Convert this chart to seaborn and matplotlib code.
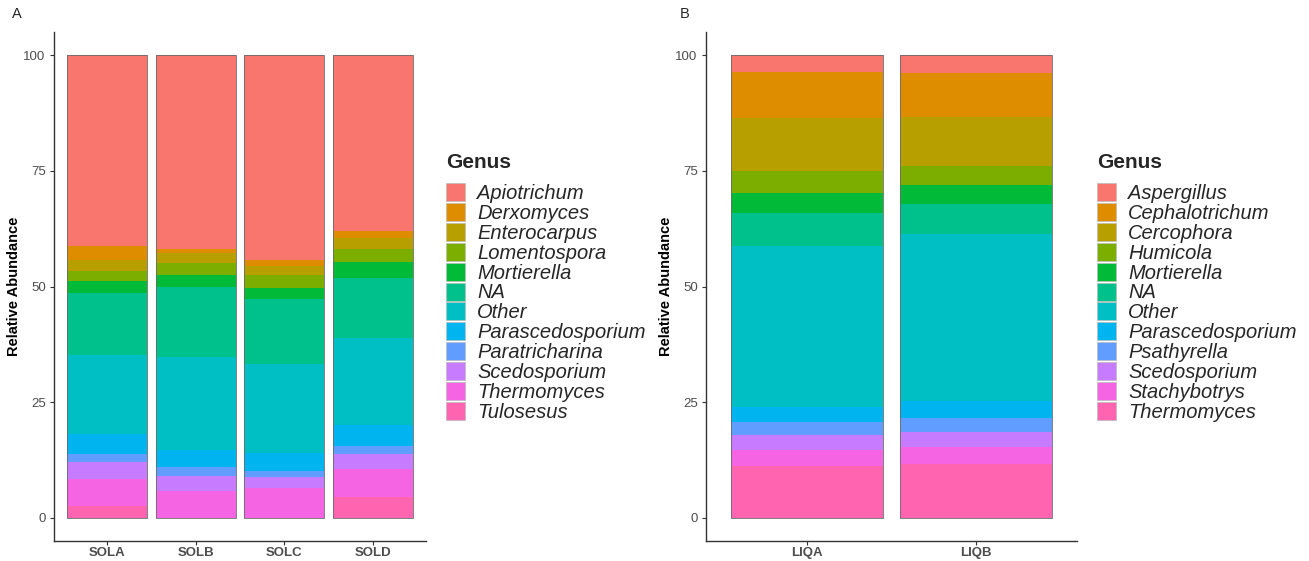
import numpy as np
import pandas as pd
import matplotlib
matplotlib.use("Agg")
import matplotlib.pyplot as plt
import seaborn as sns
from matplotlib.patches import Patch

# ---- data: relative abundance (%) per genus, listed top of stack first ----
sol_samples = ["SOLA", "SOLB", "SOLC", "SOLD"]
sol_genera = ["Apiotrichum", "Derxomyces", "Enterocarpus", "Lomentospora",
              "Mortierella", "NA", "Other", "Parascedosporium",
              "Paratricharina", "Scedosporium", "Thermomyces", "Tulosesus"]
sola = [41.2, 3.1, 2.3, 2.3, 2.6, 13.4, 16.9, 4.4, 1.8, 3.7, 5.8, 2.5]
solb = [42.0, 0.8, 2.2, 2.6, 2.5, 15.1, 20.1, 3.8, 1.9, 3.1, 5.9, 0.0]
solc = [44.2, 1.4, 2.0, 2.8, 2.3, 14.1, 19.1, 3.9, 1.4, 2.3, 6.5, 0.0]
sold = [37.9, 1.6, 2.3, 2.9, 3.4, 13.0, 18.9, 4.4, 1.8, 3.2, 6.1, 4.5]

liq_samples = ["LIQA", "LIQB"]
liq_genera = ["Aspergillus", "Cephalotrichum", "Cercophora", "Humicola",
              "Mortierella", "NA", "Other", "Parascedosporium",
              "Psathyrella", "Scedosporium", "Stachybotrys", "Thermomyces"]
liqa = [3.6, 10.0, 11.5, 4.7, 4.3, 7.2, 34.8, 3.1, 2.8, 3.3, 3.4, 11.3]
liqb = [3.8, 9.5, 10.6, 4.2, 4.1, 6.4, 36.1, 3.7, 3.0, 3.2, 3.8, 11.6]

# ggplot2-style hue palette (12 levels)
hue12 = ["#F8766D", "#DE8C00", "#B79F00", "#7CAE00", "#00BA38", "#00C08B",
         "#00BFC4", "#00B4F0", "#619CFF", "#C77CFF", "#F564E3", "#FF64B0"]

sns.set_theme(style="white")
plt.rcParams['font.family'] = ['Liberation Sans', 'DejaVu Sans']

W, H = 1309, 561
fig = plt.figure(figsize=(W / 100, H / 100), dpi=100)


def long_table(samples, genera, columns):
    rows = []
    for s, vals in zip(samples, columns):
        # cumulative from the bottom of the stack (last genus) upwards
        cum = np.cumsum(vals[::-1])[::-1]
        for g, v, c in zip(genera, vals, cum):
            rows.append({"sample": s, "genus": g, "value": v, "top": c})
    return pd.DataFrame(rows)


def stacked_panel(ax, samples, genera, columns):
    df = long_table(samples, genera, columns)
    for g, col in zip(genera, hue12):
        sub = df[df["genus"] == g]
        sns.barplot(data=sub, x="sample", y="top", order=samples, color=col,
                    saturation=1, width=0.9, errorbar=None, ax=ax,
                    linewidth=0)
    # outline of each full column
    tot = df[df["genus"] == genera[0]]
    sns.barplot(data=tot, x="sample", y="top", order=samples, fill=False,
                width=0.9, errorbar=None, ax=ax, color="#6A6A6A",
                linewidth=0.6)
    n = len(samples)
    ax.set_xlim(-0.6, n - 0.4)
    ax.set_ylim(-5, 105)
    ax.set_yticks([0, 25, 50, 75, 100])
    ax.set_xlabel("")
    ax.set_ylabel("Relative Abundance", fontsize=10.5, fontweight="bold",
                  color="black", labelpad=2)
    for side in ("top", "right"):
        ax.spines[side].set_visible(False)
    for side in ("left", "bottom"):
        ax.spines[side].set_color("#333333")
        ax.spines[side].set_linewidth(1.0)
    ax.tick_params(axis="both", length=3, width=0.8, color="#333333",
                   labelcolor="#4D4D4D", labelsize=9.5, pad=3, left=True,
                   bottom=True)
    ax.tick_params(axis="x", pad=1.5)
    for lab in ax.get_xticklabels():
        lab.set_fontweight("bold")
        lab.set_fontsize(9.5)
    ax.grid(False)


def genus_legend(x_px, title_y_px, keys_y_px, genera):
    handles = [Patch(facecolor=c, edgecolor="#BBBBBB", linewidth=0.5)
               for c in hue12[:len(genera)]]
    fig.text(x_px / W, 1 - title_y_px / H, "Genus", fontsize=15,
             fontweight="bold", ha="left", va="center")
    leg = fig.legend(handles, genera, loc="upper left",
                     bbox_to_anchor=(x_px / W, 1 - keys_y_px / H),
                     frameon=False, borderpad=0, borderaxespad=0,
                     handlelength=0.95, handleheight=1.0,
                     handletextpad=0.6, labelspacing=0.0,
                     prop={"size": 14.5, "style": "italic"})
    return leg


axA = fig.add_axes([54 / W, 20 / H, 372 / W, 509 / H])
stacked_panel(axA, sol_samples, sol_genera, [sola, solb, solc, sold])
axB = fig.add_axes([706 / W, 20 / H, 371 / W, 509 / H])
stacked_panel(axB, liq_samples, liq_genera, [liqa, liqb])

genus_legend(446, 163, 183, sol_genera)
genus_legend(1097, 163, 183, liq_genera)

fig.text(12 / W, 1 - 14 / H, "A", fontsize=10.5, va="center", ha="left")
fig.text(680 / W, 1 - 14 / H, "B", fontsize=10.5, va="center", ha="left")

fig.savefig("out.png", dpi=100, facecolor="white")
